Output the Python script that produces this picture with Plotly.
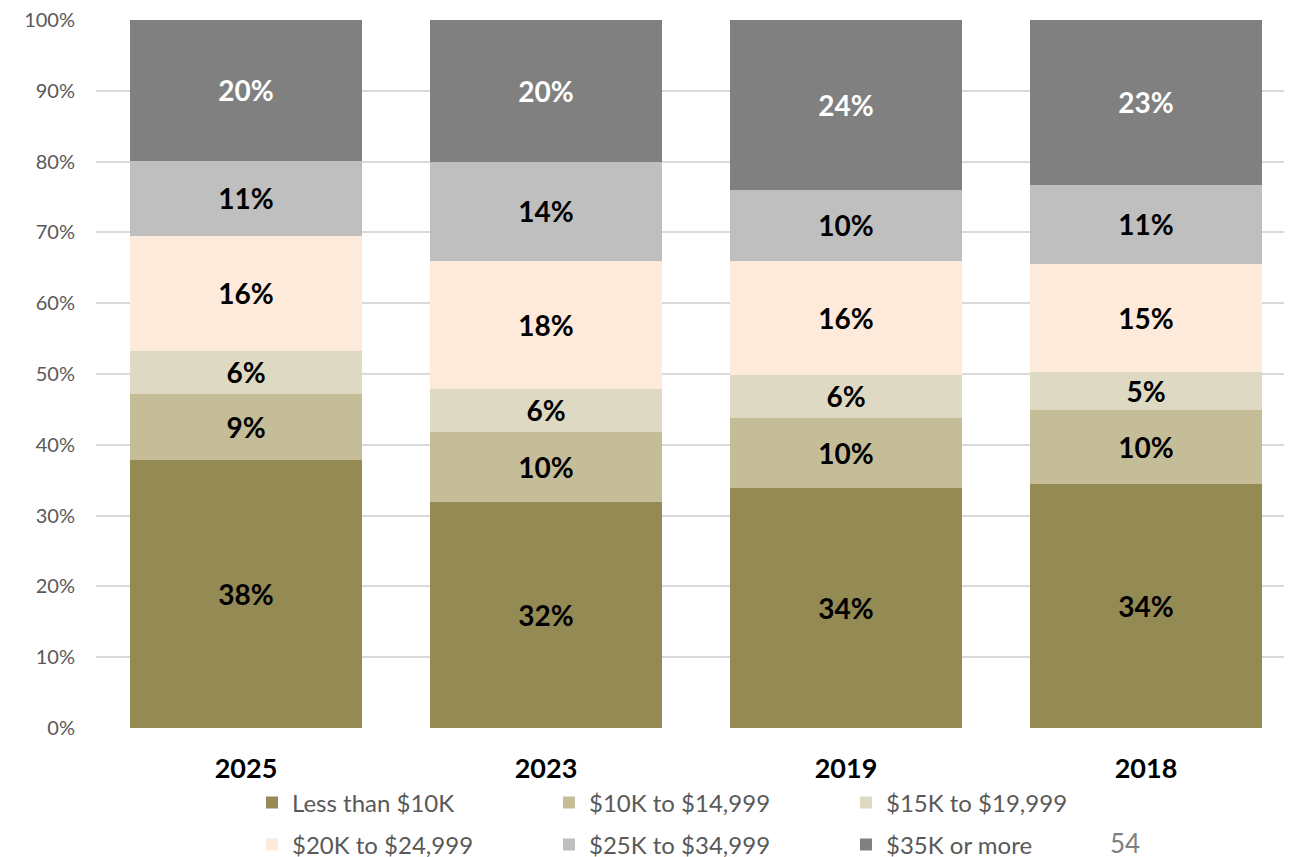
import plotly.graph_objects as go

years = ["2025", "2023", "2019", "2018"]
series_names = ["Less than $10K", "$10K to $14,999", "$15K to $19,999",
                "$20K to $24,999", "$25K to $34,999", "$35K or more"]
less_10k = [37.9, 31.9, 33.9, 34.45]
k10_15 = [9.3, 9.9, 9.9, 10.45]
k15_20 = [6.1, 6.1, 6.1, 5.4]
k20_25 = [16.2, 18.1, 16.1, 15.3]
k25_35 = [10.6, 14.0, 10.0, 11.1]
k35_plus = [19.9, 20.0, 24.0, 23.3]
series_values = [less_10k, k10_15, k15_20, k20_25, k25_35, k35_plus]
colors = ["#948A54", "#C4BD97", "#DDD9C3", "#FDEADA", "#BFBFBF", "#808080"]
text_colors = ["black", "black", "black", "black", "black", "white"]
legend_ids = ["legend", "legend", "legend", "legend2", "legend2", "legend2"]
y_ticks = [0, 10, 20, 30, 40, 50, 60, 70, 80, 90, 100]
y_tick_labels = [f"{v}%" for v in y_ticks]

FONT = "Lato, Open Sans, sans-serif"

fig = go.Figure()
for name, vals, col, tcol, lg in zip(series_names, series_values, colors,
                                      text_colors, legend_ids):
    fig.add_trace(go.Bar(
        x=years, y=vals, name=name, legend=lg,
        marker=dict(color=col, line=dict(width=0)),
        texttemplate="<b>%{y:.0f}%</b>", textposition="inside",
        insidetextanchor="middle", constraintext="none",
        textfont=dict(family=FONT, size=28, color=tcol),
        hoverinfo="skip",
    ))

legend_common = dict(
    orientation="h", xanchor="left", yanchor="middle",
    entrywidth=252, entrywidthmode="pixels",
    font=dict(family=FONT, size=24, color="#595959"),
    traceorder="normal", itemclick=False, bgcolor="rgba(0,0,0,0)",
)

fig.update_layout(
    width=1292, height=857,
    barmode="stack", bargap=0.227,
    plot_bgcolor="white", paper_bgcolor="white",
    margin=dict(l=88, r=8, t=12, b=137, autoexpand=False),
    font=dict(family=FONT, color="#595959"),
    xaxis=dict(
        range=[-0.5, -0.5 + 1196 / 300], showgrid=False, zeroline=False,
        tickfont=dict(family=FONT, size=27, color="black", weight="bold"),
        ticklabelstandoff=22, showline=False,
    ),
    yaxis=dict(
        range=[0, 100], tickvals=y_ticks, ticktext=y_tick_labels,
        showgrid=True, gridcolor="#D9D9D9", gridwidth=1.5, zeroline=False,
        tickfont=dict(family=FONT, size=20, color="#595959"),
        ticklabelstandoff=20, ticklabeloverflow="allow",
    ),
    legend=dict(legend_common, x=(252 - 96) / 1196, y=(728 - 803) / 708),
    legend2=dict(legend_common, x=(252 - 96) / 1196, y=(728 - 845) / 708),
    annotations=[dict(
        text="54", x=(1125 - 96) / 1196, y=(728 - 843) / 708,
        xref="paper", yref="paper", showarrow=False,
        xanchor="center", yanchor="middle",
        font=dict(family=FONT, size=26, color="#808080"),
    )],
)

fig.write_html("out.html")
